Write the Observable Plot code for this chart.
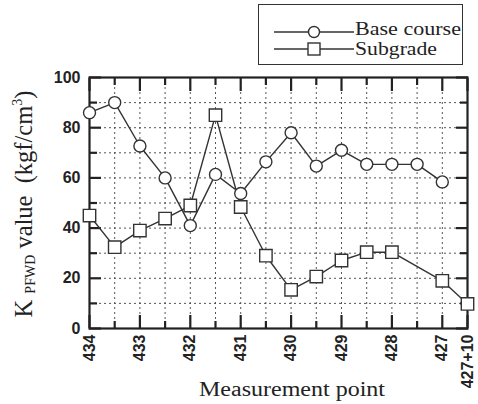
<!DOCTYPE html>
<html><head><meta charset="utf-8">
<script src="https://cdn.jsdelivr.net/npm/d3@7"></script>
<script src="https://cdn.jsdelivr.net/npm/@observablehq/plot@0.6"></script>
<style>
body{margin:0;background:#fff;}
#wrap{position:relative;width:478px;height:404px;overflow:hidden;}
#legend{position:absolute;left:258px;top:4px;width:205px;height:61px;border:1.5px solid #333;box-sizing:border-box;background:#fff;}
</style></head><body><div id="wrap"><div id="legend"></div></div>
<script>
// Measurement points (x categories, evenly spaced)
const points = ["434","","433","","432","","431","","430","","429","","428","","427","427+10"];
// K_PFWD values (kgf/cm3)
const baseCourse = [86, 90, 72.7, 60, 41, 61.4, 53.8, 66.4, 78, 64.7, 71, 65.4, 65.4, 65.4, 58.4, null];
const subgrade   = [45, 32.4, 39, 43.8, 49, 85, 48.4, 29, 15.4, 20.7, 27.1, 30.4, 30.4, null, 19, 9.8];
const seriesNames = ["Base course", "Subgrade"];
const yLabelTicks = [0, 20, 40, 60, 80, 100];
const yMinorTicks = [10, 30, 50, 70, 90];

const idx = points.map((_, i) => i);
const labeledIdx = idx.filter(i => points[i] !== "");
const minorIdx = idx.filter(i => points[i] === "");
const rows = [];
[baseCourse, subgrade].forEach((arr, s) => arr.forEach((v, i) => { if (v != null) rows.push({i, value: v, series: seriesNames[s]}); }));
const bc = rows.filter(d => d.series === seriesNames[0]);
const sg = rows.filter(d => d.series === seriesNames[1]);

const ink = "#222";
const tickFont = {fontSize: 16, fontWeight: "bold", fontFamily: "Liberation Sans, Arial, sans-serif", fill: ink};
const gridStyle = {stroke: "#444", strokeOpacity: 0.9, strokeDasharray: "2,3", strokeWidth: 1};
const noText = () => "";

const chart = Plot.plot({
  width: 478, height: 404,
  marginLeft: 89, marginRight: 11, marginTop: 77, marginBottom: 76,
  style: {background: "white", color: ink, overflow: "visible"},
  x: {domain: [0, points.length - 1]},
  y: {domain: [0, 100]},
  marks: [
    Plot.gridX(idx.slice(1, -1), gridStyle),
    Plot.gridY(d3.range(10, 100, 10), gridStyle),
    // tick labels
    Plot.axisY(yLabelTicks, {tickSize: 0, tickPadding: 9, label: null, ...tickFont}),
    Plot.axisX(labeledIdx, {tickSize: 0, tickPadding: 6, tickRotate: -90, label: null, tickFormat: i => points[i], ...tickFont}),
    // inward ticks
    Plot.axisY(yLabelTicks, {anchor: "left", tickSize: -12, tickFormat: noText, label: null, strokeWidth: 2.2}),
    Plot.axisY(yMinorTicks, {anchor: "left", tickSize: -8, tickFormat: noText, label: null, strokeWidth: 2.2}),
    Plot.axisY(yLabelTicks, {anchor: "right", tickSize: -12, tickFormat: noText, label: null, strokeWidth: 2.2}),
    Plot.axisY(yMinorTicks, {anchor: "right", tickSize: -8, tickFormat: noText, label: null, strokeWidth: 2.2}),
    Plot.axisX(labeledIdx, {anchor: "bottom", tickSize: -13, tickFormat: noText, label: null, strokeWidth: 2.2}),
    Plot.axisX(minorIdx, {anchor: "bottom", tickSize: -7, tickFormat: noText, label: null, strokeWidth: 2.2}),
    Plot.axisX(labeledIdx, {anchor: "top", tickSize: -13, tickFormat: noText, label: null, strokeWidth: 2.2}),
    Plot.axisX(minorIdx, {anchor: "top", tickSize: -7, tickFormat: noText, label: null, strokeWidth: 2.2}),
    Plot.frame({stroke: ink, strokeWidth: 2.2}),
    // series
    Plot.line(bc, {x: "i", y: "value", stroke: "#333", strokeWidth: 1.4}),
    Plot.line(sg, {x: "i", y: "value", stroke: "#333", strokeWidth: 1.4}),
    Plot.dot(bc, {x: "i", y: "value", r: 6, symbol: "circle", fill: "white", stroke: "#333", strokeWidth: 1.4}),
    Plot.dot(sg, {x: "i", y: "value", r: 7, symbol: "square", fill: "white", stroke: "#333", strokeWidth: 1.4})
  ]
});
document.getElementById("wrap").prepend(chart);

const svg = d3.select(chart);
const serif = "Liberation Serif, 'Times New Roman', serif";
// y label
const yl = svg.append("text")
  .attr("transform", "translate(32,204) rotate(-90)")
  .attr("text-anchor", "middle").attr("font-family", serif).attr("font-size", 24.5)
  .attr("fill", ink).style("white-space", "pre");
yl.append("tspan").text("K ");
yl.append("tspan").attr("font-size", 14).attr("dy", 3).text("PFWD");
yl.append("tspan").attr("dy", -3).text(" value  (kgf/cm");
yl.append("tspan").attr("font-size", 14).attr("dy", -10).text("3");
yl.append("tspan").attr("dy", 10).text(")");
// x label
svg.append("text").attr("x", 292).attr("y", 396).attr("text-anchor", "middle")
  .attr("font-family", serif).attr("font-size", 20).attr("fill", ink)
  .attr("textLength", 186).attr("lengthAdjust", "spacingAndGlyphs")
  .text("Measurement point");

// legend
const lg = d3.select("#legend").append("svg").attr("width", 202).attr("height", 58);
seriesNames.forEach((name, k) => {
  const y = k === 0 ? 27 : 44;
  const g = lg.append("g");
  g.append("line").attr("x1", 15).attr("x2", 95).attr("y1", y).attr("y2", y).attr("stroke", "#333").attr("stroke-width", 1.4);
  if (k === 0) g.append("circle").attr("cx", 55).attr("cy", y).attr("r", 5.5).attr("fill", "white").attr("stroke", "#333").attr("stroke-width", 1.4);
  else g.append("rect").attr("x", 49).attr("y", y - 6).attr("width", 12).attr("height", 12).attr("fill", "white").attr("stroke", "#333").attr("stroke-width", 1.4);
  g.append("text").attr("x", 96).attr("y", y + (k === 0 ? 3 : 6)).attr("font-family", serif).attr("font-size", 18).attr("fill", ink)
    .attr("textLength", k === 0 ? 106 : 82).attr("lengthAdjust", "spacingAndGlyphs").text(name);
});
</script></body></html>
